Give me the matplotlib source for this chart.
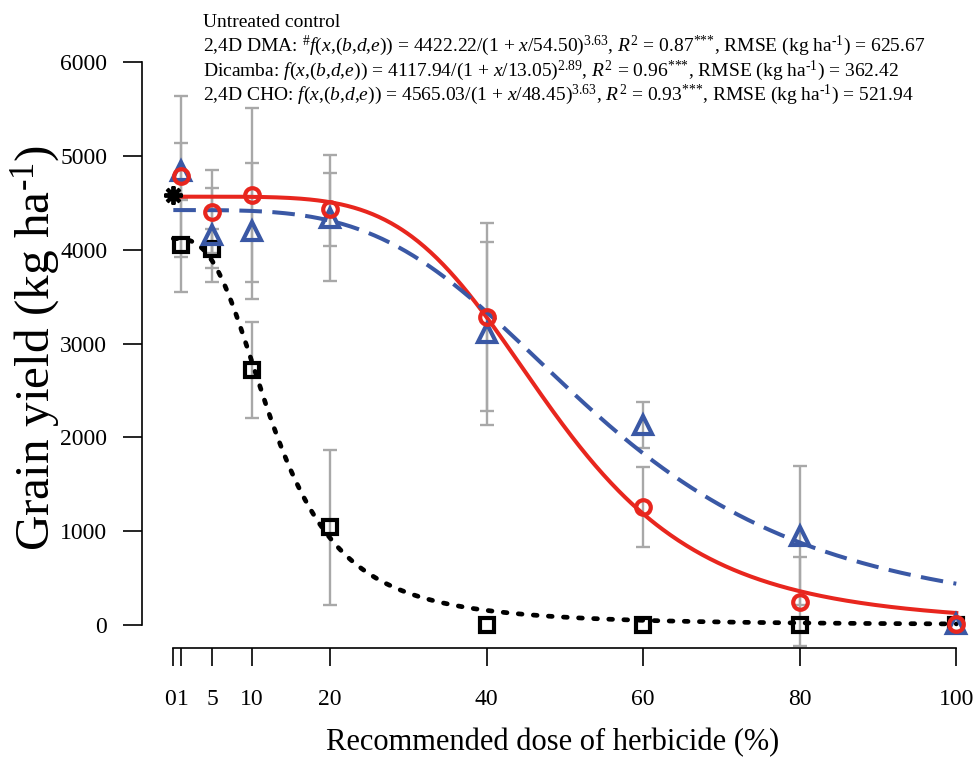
import numpy as np
import matplotlib
matplotlib.use("Agg")
import matplotlib.pyplot as plt
from matplotlib.transforms import ScaledTranslation

plt.rcParams['font.family'] = ['Liberation Serif', 'DejaVu Serif']
plt.rcParams['mathtext.fontset'] = 'custom'
plt.rcParams['mathtext.rm'] = 'Liberation Serif'
plt.rcParams['mathtext.it'] = 'Liberation Serif:italic'
plt.rcParams['mathtext.bf'] = 'Liberation Serif:bold'

# herbicide dose, % of recommended rate
doses = [1, 5, 10, 20, 40, 60, 80, 100]
xticks = [0, 1, 5, 10, 20, 40, 60, 80, 100]
yticks = [0, 1000, 2000, 3000, 4000, 5000, 6000]

# mean grain yield (kg/ha) and error bar half-length
dma_yield = [4835, 4156, 4200, 4340, 3110, 2130, 950, 10]
dma_err = [303, 497, 725, 670, 975, 245, 740, 0]
dicamba_yield = [4050, 4010, 2720, 1040, 5, 5, 5, 5]
dicamba_err = [498, 208, 510, 826, 0, 0, 0, 0]
cho_yield = [4780, 4405, 4583, 4430, 3280, 1255, 249, 10]
cho_err = [857, 444, 924, 390, 1000, 425, 476, 0]

control_dose = 0
control_yield = 4583

# log-logistic fits (d, e, b): d / (1 + (x/e)^b)
dma_fit = (4422.22, 54.50, 3.63)
dicamba_fit = (4117.94, 13.05, 2.89)
cho_fit = (4565.03, 48.45, 4.9)

FX = r"$\mathit{f}$($\mathit{x}$,($\mathit{b}$,$\mathit{d}$,$\mathit{e}$))"
R2 = r"$\mathit{R}^{\text{2}}$"
STARS = r"$^{\text{***}}$"
HA = r"RMSE (kg ha$^{\text{-1}}$)"

header = [
    "Untreated control",
    "2,4D DMA: $^{\\#}$" + FX + r" = 4422.22/(1 + $\mathit{x}$/54.50)$^{\text{3.63}}$, "
    + R2 + " = 0.87" + STARS + ", " + HA + " = 625.67",
    "Dicamba: " + FX + r" = 4117.94/(1 + $\mathit{x}$/13.05)$^{\text{2.89}}$, "
    + R2 + " = 0.96" + STARS + ", " + HA + " = 362.42",
    "2,4D CHO: " + FX + r" = 4565.03/(1 + $\mathit{x}$/48.45)$^{\text{3.63}}$, "
    + R2 + " = 0.93" + STARS + ", " + HA + " = 521.94",
]

RED = '#e8261e'
BLUE = '#3a58a5'
GREY = '#a8a8a8'


def loglogistic(x, d, e, b):
    return d / (1 + (x / e) ** b)


W, H = 974, 757
fig = plt.figure(figsize=(W / 100, H / 100), dpi=100)
ax = fig.add_axes([142 / W, 1 - 647.5 / H, (987.6 - 142) / W, (647.5 - 39.5) / H])
ax.set_xlim(-4, 104)
ax.set_ylim(-240, 6240)

xs = np.linspace(0, 100, 500)

# fitted curves
ax.plot(xs, loglogistic(xs, *cho_fit), color=RED, lw=2.9, zorder=3)
ax.plot(xs, loglogistic(xs, *dma_fit), color=BLUE, lw=2.9, dashes=(5.6, 2.6), zorder=3)
ax.plot(xs, loglogistic(xs, *dicamba_fit), color='black', lw=3.4,
        dashes=(0.8, 2.4), dash_capstyle='round', zorder=3)

# error bars (only where there is spread)
for ys, errs in [(dma_yield, dma_err), (dicamba_yield, dicamba_err), (cho_yield, cho_err)]:
    sel = [i for i, e in enumerate(errs) if e > 0]
    ax.errorbar([doses[i] for i in sel], [ys[i] for i in sel], yerr=[errs[i] for i in sel],
                fmt='none', ecolor=GREY, elinewidth=1.7, capsize=5, capthick=1.7, zorder=2)

# observed means
ax.plot(doses, dicamba_yield, ls='none', marker='s', ms=9.5, mfc='none', mec='black', mew=3, zorder=4)
ax.plot(doses, dma_yield, ls='none', marker='^', ms=12.5, mfc='none', mec=BLUE, mew=3, zorder=4)
ax.plot(doses, cho_yield, ls='none', marker='o', ms=10.5, mfc='none', mec=RED, mew=3, zorder=4)
ax.plot(control_dose, control_yield, ls='none', marker=(8, 2, 0), ms=13, mec='black', mew=2.8, zorder=4)

# R-style detached axes
for s in ['top', 'right']:
    ax.spines[s].set_visible(False)
ax.spines['left'].set_bounds(0, 6000)
ax.spines['bottom'].set_bounds(0, 100)
ax.spines['left'].set_linewidth(1.2)
ax.spines['bottom'].set_linewidth(1.2)
ax.set_xticks(xticks)
ax.set_xticklabels([str(t) for t in xticks])
ax.set_yticks(yticks)
ax.set_yticklabels([str(t) for t in yticks])
ax.tick_params(axis='x', length=13, width=1.2, pad=17, labelsize=17)
ax.tick_params(axis='y', length=14, width=1.2, pad=11, labelsize=17)

# nudge the crowded "0" and "1" labels apart
labels = ax.get_xticklabels()
labels[0].set_transform(labels[0].get_transform() + ScaledTranslation(-2.5 / 72, 0, fig.dpi_scale_trans))
labels[1].set_transform(labels[1].get_transform() + ScaledTranslation(1.5 / 72, 0, fig.dpi_scale_trans))

fig.text(553 / W, 1 - 750 / H, "Recommended dose of herbicide (%)", ha='center', va='baseline', fontsize=22)
fig.text(36 / W, 1 - 348 / H, r"Grain yield (kg ha$^{\text{-1}}$)", ha='center', va='center',
         rotation=90, fontsize=35.5)

for i, line in enumerate(header):
    fig.text(203 / W, 1 - (27 + 24.5 * i) / H, line, ha='left', va='baseline', fontsize=14.0)

fig.savefig('out.png', dpi=100)
